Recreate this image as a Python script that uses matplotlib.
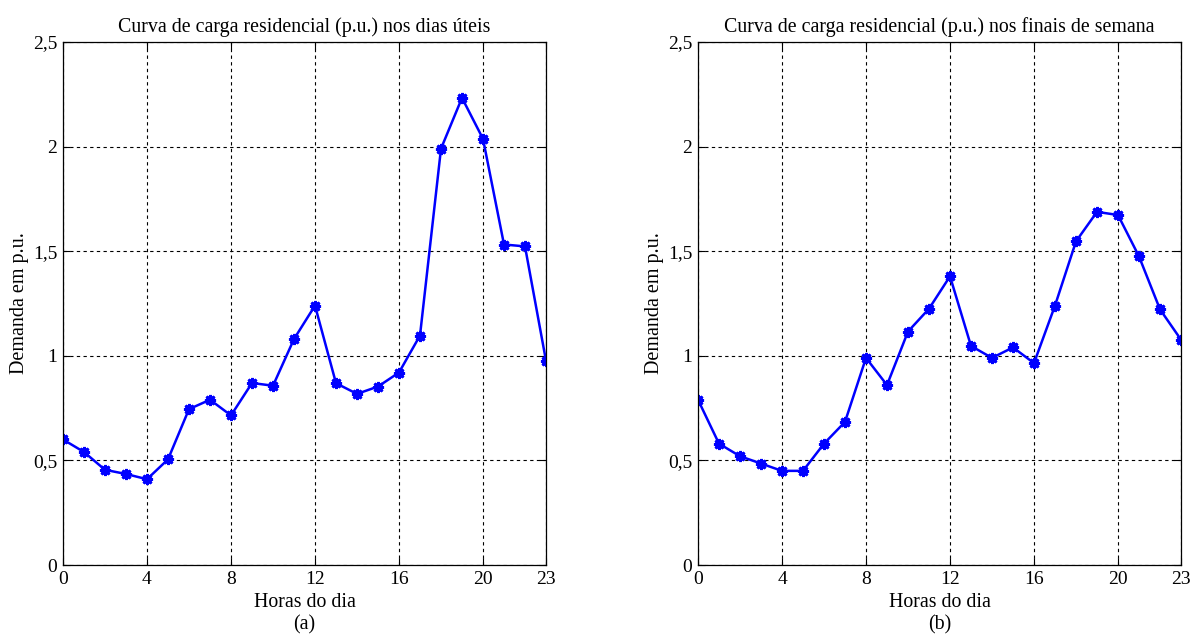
import numpy as np
import matplotlib.pyplot as plt

horas = list(range(24))
uteis = [0.60, 0.54, 0.455, 0.435, 0.41, 0.505, 0.745, 0.79, 0.715, 0.87, 0.857, 1.08,
         1.24, 0.869, 0.818, 0.853, 0.92, 1.097, 1.99, 2.233, 2.037, 1.532, 1.523, 0.976]
fds = [0.79, 0.58, 0.52, 0.485, 0.45, 0.45, 0.58, 0.684, 0.99, 0.86, 1.116, 1.225,
       1.38, 1.047, 0.99, 1.04, 0.965, 1.24, 1.547, 1.688, 1.673, 1.475, 1.222, 1.077]
titulos = ['Curva de carga residencial (p.u.) nos dias úteis',
           'Curva de carga residencial (p.u.) nos finais de semana']
letras = ['(a)', '(b)']
xticks = [0, 4, 8, 12, 16, 20, 23]
yticks = [0, 0.5, 1, 1.5, 2, 2.5]
ylabels = ['0', '0,5', '1', '1,5', '2', '2,5']

plt.rcParams['font.family'] = ['Liberation Serif', 'DejaVu Serif']
plt.rcParams['font.size'] = 14

fig = plt.figure(figsize=(12, 6.35), dpi=100)
lefts = [63 / 1200, 698 / 1200]

for left, dados, titulo, letra in zip(lefts, [uteis, fds], titulos, letras):
    ax = fig.add_axes([left, 1 - 565 / 635, 483 / 1200, 523 / 635])
    ax.plot(horas, dados, color='blue', lw=1.8, marker=(8, 2, 0), ms=8, mew=2)
    ax.set_xlim(0, 23)
    ax.set_ylim(0, 2.5)
    ax.set_xticks(xticks)
    ax.set_yticks(yticks)
    ax.set_yticklabels(ylabels)
    ax.grid(True, color='black', linestyle=(0, (3, 3)), lw=0.8)
    ax.tick_params(direction='in', length=5, right=True, top=True, pad=4, width=0.8)
    for s in ax.spines.values():
        s.set_linewidth(0.9)
    ax.set_title(titulo, fontsize=14.3, pad=7)
    ax.set_ylabel('Demanda em p.u.', fontsize=14.5, labelpad=3)
    ax.set_xlabel('Horas do dia\n' + letra, fontsize=14.3, labelpad=4,
                  linespacing=1.25)

fig.savefig('out.png', dpi=100)
